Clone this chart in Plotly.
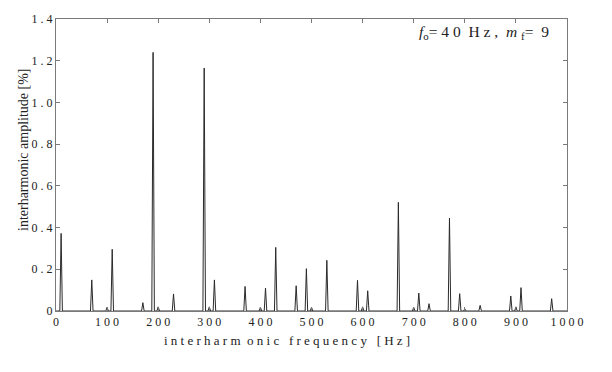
import plotly.graph_objects as go

# ---- data ----
peak_freq_hz = [10, 70, 100, 110, 170, 190, 200, 230, 290, 300, 310, 370, 400, 410, 430,
                470, 490, 500, 530, 590, 600, 610, 670, 700, 710, 730, 770, 790, 800,
                830, 890, 900, 910, 970]
peak_amp_pct = [0.372, 0.149, 0.018, 0.296, 0.040, 1.240, 0.020, 0.082, 1.165, 0.020, 0.149,
                0.118, 0.018, 0.110, 0.305, 0.121, 0.203, 0.018, 0.243, 0.147, 0.020, 0.097,
                0.521, 0.018, 0.086, 0.035, 0.446, 0.083, 0.010, 0.027, 0.072, 0.020, 0.112,
                0.059]
x_ticks = [0, 100, 200, 300, 400, 500, 600, 700, 800, 900, 1000]
y_ticks = [0, 0.2, 0.4, 0.6, 0.8, 1.0, 1.2, 1.4]

# ---- styling ----
HALF_WIDTH = 2.5  # Hz, visual half-width of each spectral line
FONT = "Liberation Serif, Times New Roman, DejaVu Serif, serif"
AXIS_COLOR = "#7a7a7a"

def spaced(s):
    return " ".join(list(s))

xs, ys = [0], [0]
for f, a in zip(peak_freq_hz, peak_amp_pct):
    xs += [f - HALF_WIDTH, f, f + HALF_WIDTH]
    ys += [0, a, 0]
xs.append(1000)
ys.append(0)

fig = go.Figure()
fig.add_trace(go.Scatter(x=xs, y=ys, mode="lines",
                         line=dict(color="#2a2a2a", width=1),
                         showlegend=False, hoverinfo="skip"))

axis_common = dict(showgrid=False, zeroline=False, showline=True, linecolor=AXIS_COLOR,
                   linewidth=1, mirror="ticks", ticks="inside", ticklen=4,
                   tickcolor=AXIS_COLOR, tickfont=dict(family=FONT, size=12, color="#222"))

fig.update_xaxes(range=[0, 1000], tickvals=x_ticks,
                 ticktext=[spaced(str(v)) for v in x_ticks], **axis_common)
fig.update_yaxes(range=[0, 1.4], tickvals=y_ticks,
                 ticktext=[spaced("0" if v == 0 else f"{v:.1f}") for v in y_ticks],
                 **axis_common)

fig.add_annotation(text=spaced("interharm") + "  " + spaced("onic") + "   " + spaced("frequency") + "   [ H z ]",
                   xref="paper", yref="paper", x=(287 - 56) / 511, y=-(340 - 311) / 292,
                   showarrow=False, xanchor="center", yanchor="middle",
                   font=dict(family=FONT, size=13, color="#222"))
fig.add_annotation(text="interharmonic amplitude [%]",
                   xref="paper", yref="paper", x=-(56 - 23) / 511, y=(311 - 150) / 292,
                   showarrow=False, xanchor="center", yanchor="middle", textangle=-90,
                   font=dict(family=FONT, size=14, color="#222"))
fig.add_annotation(text="<i>f</i><sub>o</sub>= 4 0  H z ,  <i>m</i> <sub>f</sub>=  9",
                   xref="paper", yref="paper", x=(551 - 56) / 511, y=(311 - 33) / 292,
                   showarrow=False, xanchor="right", yanchor="middle",
                   font=dict(family=FONT, size=15.5, color="#222"))

fig.update_layout(width=612, height=372,
                  margin=dict(l=56, r=45, t=19, b=61),
                  paper_bgcolor="white", plot_bgcolor="white",
                  font=dict(family=FONT))

fig.write_html("out.html", config={"displayModeBar": False},
               post_script="document.body.style.margin='0';document.body.style.padding='0';")
